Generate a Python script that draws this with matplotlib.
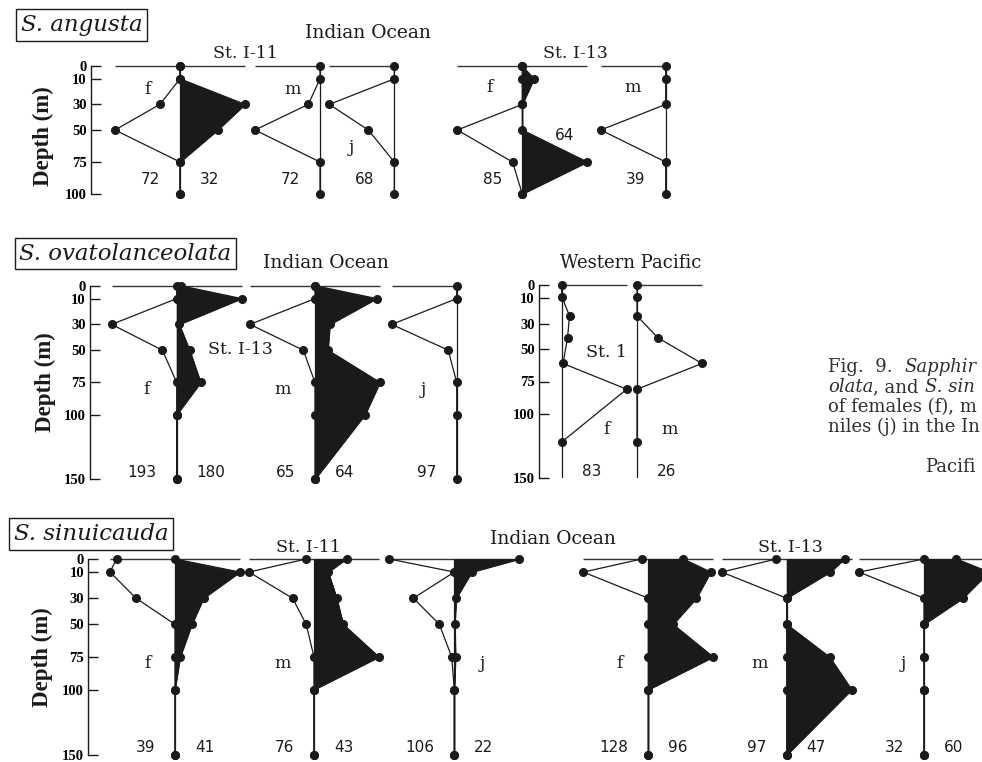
import numpy as np
import matplotlib
matplotlib.use("Agg")
import matplotlib.pyplot as plt

W, H = 982, 762
PX_PER_PCT = 0.65          # 100 % of a profile maximum is ~65 px wide
INK = "#1a1a1a"

# ---- S. angusta, Indian Ocean (St. I-11: f, m, j / St. I-13: f, m), % of max
ANG_DEPTH = [0, 10, 30, 50, 75, 100]
ANG_I11_F_LEFT = [0, 0, 31, 100, 0, 0]
ANG_I11_F_RIGHT = [0, 0, 100, 58, 0, 0]
ANG_I11_M_LEFT = [0, 0, 18, 100, 0, 0]
ANG_I11_J_LEFT = [0, 0, 100, 40, 0, 0]
ANG_I13_F_LEFT = [0, 0, 0, 100, 15, 0]
ANG_I13_F_RIGHT = [0, 18, 0, 0, 100, 0]
ANG_I13_M_LEFT = [0, 0, 0, 100, 0, 0]
ANG_COUNTS = [(72, 32), (72, None), (68, None), (85, 64), (39, None)]

# ---- S. ovatolanceolata, Indian Ocean St. I-13 (f, m, j)
OVA_DEPTH = [0, 10, 30, 50, 75, 100, 150]
OVA_F_LEFT = [0, 0, 100, 22, 0, 0, 0]
OVA_F_RIGHT = [6, 100, 4, 20, 37, 0, 0]
OVA_M_LEFT = [0, 0, 100, 18, 0, 0, 0]
OVA_M_RIGHT = [0, 95, 23, 20, 100, 77, 0]
OVA_J_LEFT = [0, 0, 100, 13, 0, 0, 0]
OVA_COUNTS = [(193, 180), (65, 64), (97, None)]

# ---- S. ovatolanceolata, Western Pacific St. 1 (f, m)
WP_DEPTH = [0, 9, 24, 41, 61, 81, 122]
WP_F_RIGHT = [0, 0, 12, 9, 2, 100, 0]
WP_M_RIGHT = [0, 0, 0, 32, 100, 0, 0]
WP_COUNTS = [(None, 83), (None, 26)]

# ---- S. sinuicauda, Indian Ocean (St. I-11: f, m, j / St. I-13: f, m, j)
SIN_DEPTH = [0, 10, 30, 50, 75, 100, 150]
SIN_I11_F_LEFT = [90, 100, 60, 0, 0, 0, 0]
SIN_I11_F_RIGHT = [0, 100, 44, 26, 8, 0, 0]
SIN_I11_M_LEFT = [12, 100, 33, 12, 0, 0, 0]
SIN_I11_M_RIGHT = [50, 22, 35, 45, 100, 0, 0]
SIN_I11_J_LEFT = [100, 0, 63, 23, 4, 0, 0]
SIN_I11_J_RIGHT = [100, 27, 3, 1, 2, 0, 0]
SIN_I13_F_LEFT = [10, 100, 0, 0, 0, 0, 0]
SIN_I13_F_RIGHT = [54, 96, 74, 38, 100, 0, 0]
SIN_I13_M_LEFT = [16, 100, 0, 0, 0, 0, 0]
SIN_I13_M_RIGHT = [89, 67, 0, 0, 66, 100, 0]
SIN_I13_J_LEFT = [0, 100, 0, 0, 0, 0, 0]
SIN_I13_J_RIGHT = [50, 100, 60, 0, 0, 0, 0]
SIN_COUNTS = [(39, 41), (76, 43), (106, 22), (128, 96), (97, 47), (32, 60)]

TICKS_100 = [0, 10, 30, 50, 75, 100]
TICKS_150 = [0, 10, 30, 50, 75, 100, 150]

# caption, cut by the right edge of the page as in the source
CAPTION = [
    [("Fig.  9.  ", "normal"), ("Sapphirina", "italic")],
    [("olata", "italic"), (", and ", "normal"), ("S. sinuicauda", "italic")],
    [("of females (f), males", "normal")],
    [("niles (j) in the Indian", "normal")],
]

fig = plt.figure(figsize=(W / 100, H / 100), dpi=100)


def fx(x):
    return x / W


def fy(y):
    return 1 - y / H


def row_axes(left, top, bottom, right, ymax, ticks):
    ax = fig.add_axes([fx(left), fy(bottom), (right - left) / W, (bottom - top) / H])
    ax.set_xlim(0, (right - left) / PX_PER_PCT)
    ax.set_ylim(ymax, 0)
    ax.patch.set_visible(False)
    for side in ("top", "right", "bottom"):
        ax.spines[side].set_visible(False)
    ax.spines["left"].set_color(INK)
    ax.spines["left"].set_linewidth(1.0)
    ax.set_xticks([])
    ax.set_yticks(ticks)
    ax.set_yticklabels([str(t) for t in ticks], fontfamily="Liberation Serif",
                       fontweight="bold", fontsize=10.5)
    ax.tick_params(axis="y", direction="in", length=7, width=1.0, pad=3, color=INK)
    ax.px_left = left
    return ax


def draw_profile(ax, cx, depth, left, right, counts, count_depth, fill=True, right_count_at=None):
    x0 = (cx - ax.px_left) / PX_PER_PCT
    depth = np.asarray(depth, float)
    ax.axvline(x0, color=INK, lw=0.9, zorder=2)
    lmax = max(left) if left is not None else 0
    rmax = max(right) if right is not None else 0
    ax.hlines(depth[0], x0 - lmax, x0 + rmax, color="#333333", lw=1.0, zorder=2, clip_on=False)
    if left is not None:
        xs = x0 - np.asarray(left, float)
        ax.plot(xs, depth, color=INK, lw=0.9, zorder=3, clip_on=False)
        ax.plot(xs, depth, "o", color=INK, ms=5.5, zorder=4, clip_on=False)
    if right is not None:
        xs = x0 + np.asarray(right, float)
        if fill:
            ax.fill_betweenx(depth, x0, xs, color=INK, lw=0.6, zorder=2, clip_on=False)
        ax.plot(xs, depth, color=INK, lw=0.9, zorder=3, clip_on=False)
        ax.plot(xs, depth, "o", color=INK, ms=5.5, zorder=4, clip_on=False)
    gap = 20 / PX_PER_PCT
    n_left, n_right = counts
    if n_left is not None:
        ax.text(x0 - gap, count_depth, str(n_left), ha="right", va="center",
                fontfamily="DejaVu Sans", fontsize=11, color=INK)
    if n_right is not None:
        d, off = (count_depth, gap) if right_count_at is None else right_count_at
        ax.text(x0 + off, d, str(n_right), ha="left", va="center",
                fontfamily="DejaVu Sans", fontsize=11, color=INK)


def label(x, y, s, size=12.5, style="normal", **kw):
    fig.text(fx(x), fy(y), s, ha="center", va="center", fontfamily="DejaVu Serif",
             fontsize=size, style=style, color=INK, **kw)


def title_box(x, y, s):
    fig.text(fx(x), fy(y), s, ha="center", va="center", fontfamily="DejaVu Serif",
             fontsize=16.5, style="italic", color=INK,
             bbox=dict(boxstyle="square,pad=0.2", fc="white", ec=INK, lw=1.0))


def depth_label(x, y):
    fig.text(fx(x), fy(y), "Depth (m)", rotation=90, ha="center", va="center",
             fontfamily="Liberation Serif", fontweight="bold", fontsize=16.5, color=INK)


# ---------------- S. angusta
ax1 = row_axes(90.7, 66, 194, 982, 100, TICKS_100)
ang_centers = [180, 320, 394.3, 522.3, 665.7]
ang_left = [ANG_I11_F_LEFT, ANG_I11_M_LEFT, ANG_I11_J_LEFT, ANG_I13_F_LEFT, ANG_I13_M_LEFT]
ang_right = [ANG_I11_F_RIGHT, None, None, ANG_I13_F_RIGHT, None]
for i, cx in enumerate(ang_centers):
    special = (54, 33 / PX_PER_PCT) if i == 3 else None
    draw_profile(ax1, cx, ANG_DEPTH, ang_left[i], ang_right[i], ANG_COUNTS[i], 89,
                 right_count_at=special)
title_box(81.5, 25, "S. angusta")
label(368, 33, "Indian Ocean", size=13.5)
label(245, 53, "St. I-11")
label(575, 53, "St. I-13")
for x, y, s in [(148, 89, "f"), (293, 89, "m"), (351, 148, "j"), (490, 88, "f"), (633, 88, "m")]:
    label(x, y, s)
depth_label(43, 136)

# ---------------- S. ovatolanceolata, Indian Ocean
ax2 = row_axes(90, 285.7, 479.2, 530, 150, TICKS_150)
ova_centers = [176.7, 315, 456.7]
ova_left = [OVA_F_LEFT, OVA_M_LEFT, OVA_J_LEFT]
ova_right = [OVA_F_RIGHT, OVA_M_RIGHT, None]
for i, cx in enumerate(ova_centers):
    draw_profile(ax2, cx, OVA_DEPTH, ova_left[i], ova_right[i], OVA_COUNTS[i], 145)

# ---------------- S. ovatolanceolata, Western Pacific (open profiles)
ax3 = row_axes(539, 285, 478, 780, 150, TICKS_150)
wp_centers = [561.7, 637]
wp_right = [WP_F_RIGHT, WP_M_RIGHT]
for i, cx in enumerate(wp_centers):
    draw_profile(ax3, cx, WP_DEPTH, None, wp_right[i], WP_COUNTS[i], 145, fill=False)
title_box(125.5, 253.5, "S. ovatolanceolata")
label(326, 263, "Indian Ocean", size=13.5)
label(240, 350, "St. I-13")
label(631, 263, "Western Pacific", size=13)
label(606, 352.7, "St. 1")
for x, y, s in [(146.7, 390, "f"), (283, 390, "m"), (423.3, 390, "j"), (606.7, 430, "f"), (670, 430, "m")]:
    label(x, y, s)
depth_label(45, 382)

# ---------------- S. sinuicauda
ax4 = row_axes(88.3, 559, 755, 982, 150, TICKS_150)
sin_centers = [175, 314, 454.3, 648.3, 786.7, 924]
sin_left = [SIN_I11_F_LEFT, SIN_I11_M_LEFT, SIN_I11_J_LEFT,
            SIN_I13_F_LEFT, SIN_I13_M_LEFT, SIN_I13_J_LEFT]
sin_right = [SIN_I11_F_RIGHT, SIN_I11_M_RIGHT, SIN_I11_J_RIGHT,
             SIN_I13_F_RIGHT, SIN_I13_M_RIGHT, SIN_I13_J_RIGHT]
for i, cx in enumerate(sin_centers):
    draw_profile(ax4, cx, SIN_DEPTH, sin_left[i], sin_right[i], SIN_COUNTS[i], 144)
title_box(91, 534, "S. sinuicauda")
label(553, 539, "Indian Ocean", size=13.5)
label(308, 548, "St. I-11")
label(790, 548, "St. I-13")
for x, y, s in [(148, 663, "f"), (283, 663, "m"), (482.7, 663, "j"),
                (620, 663, "f"), (759.3, 663, "m"), (903.3, 663, "j")]:
    label(x, y, s)
depth_label(42, 657)

# ---------------- caption fragment at the right edge
renderer = fig.canvas.get_renderer()


def edge_text(x, y, s, st):
    # keep only the characters that fit before the right edge of the figure
    t = fig.text(fx(x), fy(y), s, ha="left", va="baseline", style=st,
                 fontfamily="DejaVu Serif", fontsize=13, color="#303030")
    while s and t.get_window_extent(renderer).x1 > W - 1:
        s = s[:-1]
        t.set_text(s)
    return t.get_window_extent(renderer).x1 if s else W


for k, parts in enumerate(CAPTION):
    x = 828
    for s, st in parts:
        if x >= W - 1:
            break
        x = edge_text(x, 372 + 20 * k, s, st)
edge_text(925, 472, "Pacific", "normal")

fig.savefig("out.png", dpi=100)
